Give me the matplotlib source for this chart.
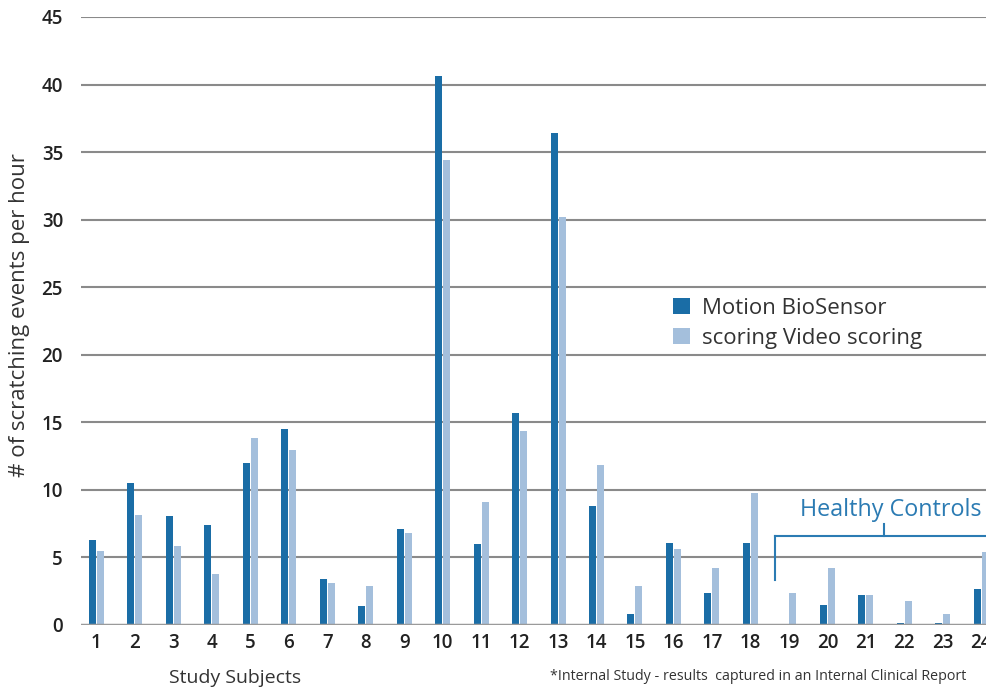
import matplotlib
matplotlib.use("Agg")
import matplotlib.pyplot as plt
import numpy as np

plt.rcParams['font.family'] = ['Open Sans', 'DejaVu Sans']

# Scratching events per hour for each study subject
subjects = [str(i) for i in range(1, 25)]
biosensor = [6.3, 10.5, 8.1, 7.4, 12.0, 14.5, 3.4, 1.4, 7.1, 40.6, 6.0, 15.7,
             36.4, 8.8, 0.85, 6.1, 2.4, 6.1, 0.0, 1.5, 2.2, 0.17, 0.17, 2.65]
video = [5.5, 8.15, 5.85, 3.8, 13.85, 12.95, 3.1, 2.85, 6.8, 34.4, 9.1, 14.35,
         30.2, 11.85, 2.85, 5.6, 4.2, 9.8, 2.4, 4.2, 2.2, 1.8, 0.85, 5.4]
yticks = [0, 5, 10, 15, 20, 25, 30, 35, 40, 45]
series_names = ["Motion BioSensor", "scoring Video scoring"]

dark = "#1a6da6"
light = "#a4bfdc"
accent = "#2b7bb3"

W, H = 987, 688
fig = plt.figure(figsize=(W / 100, H / 100), dpi=100)
ax = fig.add_axes([81 / W, (H - 625) / H, (W - 81) / W, 608 / H])

x = np.arange(len(subjects))
bw = 0.182
off = 0.104
ax.bar(x - off, biosensor, width=bw, color=dark, zorder=3, label=series_names[0])
ax.bar(x + off, video, width=bw, color=light, zorder=3, label=series_names[1])

ax.set_xlim(-0.40, 23.15)
ax.set_ylim(0, 45)
ax.set_yticks(yticks)
ax.set_yticklabels([str(v) for v in yticks])
for v in yticks[1:]:
    ax.axhline(v, color="#8a8a8a", lw=1.5, zorder=1)
ax.axhline(0, color="#9a9a9a", lw=2.5, zorder=4)

for s in ax.spines.values():
    s.set_visible(False)
ax.tick_params(axis="both", length=0)
ax.tick_params(axis="y", pad=13)
ax.tick_params(axis="x", pad=6)
ax.set_xticks(x)
ax.set_xticklabels(subjects)
for lab in ax.get_xticklabels() + ax.get_yticklabels():
    lab.set_fontsize(13.5)
    lab.set_fontweight("semibold")
    lab.set_color("#222222")

fig.text(20 / W, 1 - 315 / H, "# of scratching events per hour", rotation=90,
         ha="center", va="center", fontsize=16, color="#333333")
fig.text(235 / W, 1 - 678 / H, "Study Subjects", ha="center", va="center",
         fontsize=14, color="#333333")
fig.text(758 / W, 1 - 676 / H,
         "*Internal Study - results  captured in an Internal Clinical Report",
         ha="center", va="center", fontsize=10.3, color="#333333")

ax.legend(loc="upper left", bbox_to_anchor=(592 / 906, 1 - (298 - 17) / 608),
          frameon=False, fontsize=16, handlelength=0.75, handleheight=0.75,
          handletextpad=0.55, labelspacing=0.4, labelcolor="#333333",
          borderpad=0, borderaxespad=0)

# Healthy controls bracket (subjects 19-24)
fig.add_artist(plt.Line2D([774.7 / W, 1.0], [1 - 536 / H, 1 - 536 / H],
                          color=accent, lw=1.5))
fig.add_artist(plt.Line2D([774.7 / W, 774.7 / W], [1 - 536 / H, 1 - 580 / H],
                          color=accent, lw=1.5))
fig.add_artist(plt.Line2D([884 / W, 884 / W], [1 - 536 / H, 1 - 524 / H],
                          color=accent, lw=1.5))
fig.text(890.5 / W, 1 - 510 / H, "Healthy Controls", ha="center", va="center",
         fontsize=16.8, color=accent)

fig.savefig("out.png", dpi=100)
